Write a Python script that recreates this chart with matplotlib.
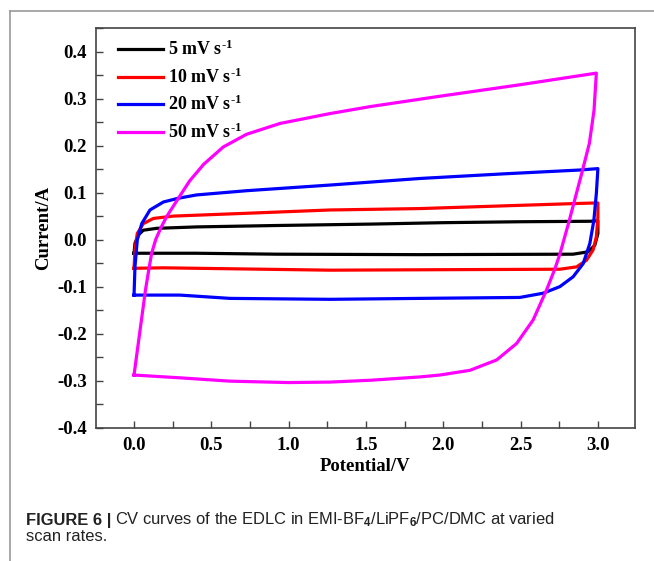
import numpy as np
import matplotlib
matplotlib.use("Agg")
import matplotlib.pyplot as plt
from matplotlib.lines import Line2D
from matplotlib.ticker import MultipleLocator, FormatStrFormatter

plt.rcParams['font.family'] = 'Liberation Serif'
plt.rcParams['font.weight'] = 'bold'
plt.rcParams['mathtext.fontset'] = 'custom'
plt.rcParams['mathtext.rm'] = 'Liberation Serif:bold'
plt.rcParams['mathtext.bf'] = 'Liberation Serif:bold'
plt.rcParams['mathtext.sf'] = 'Liberation Sans'
plt.rcParams['mathtext.default'] = 'bf'

# CV loops (potential in V, current in A)
v5 = [0, 0.006, 0.028, 0.06, 0.147, 0.405, 0.922, 1.533, 2.0, 2.5, 2.95, 3.0,
      3.0, 2.98, 2.937, 2.84, 1.849, 0.922, 0.4, 0]
i5 = [-0.029, -0.008, 0.010, 0.020, 0.024, 0.027, 0.030, 0.033, 0.036, 0.038, 0.039, 0.040,
      0.013, -0.012, -0.026, -0.031, -0.032, -0.031, -0.029, -0.029]

v10 = [0, 0.006, 0.021, 0.06, 0.125, 0.254, 0.728, 1.267, 1.849, 2.883, 3.0,
       3.0, 2.99, 2.969, 2.926, 2.862, 2.754, 1.978, 1.267, 0.62, 0.19, 0]
i10 = [-0.061, -0.022, 0.013, 0.034, 0.045, 0.050, 0.056, 0.063, 0.066, 0.077, 0.078,
       0.048, 0.006, -0.022, -0.044, -0.058, -0.063, -0.064, -0.065, -0.062, -0.060, -0.061]

v20 = [0, 0.006, 0.021, 0.05, 0.103, 0.19, 0.287, 0.405, 0.728, 1.267, 1.849, 2.4, 2.883, 3.0,
       2.99, 2.974, 2.948, 2.905, 2.84, 2.754, 2.646, 2.495, 1.849, 1.267, 0.62, 0.297, 0]
i20 = [-0.118, -0.058, -0.001, 0.034, 0.063, 0.080, 0.088, 0.095, 0.104, 0.116, 0.130, 0.140, 0.148, 0.151,
       0.098, 0.041, -0.008, -0.051, -0.079, -0.100, -0.114, -0.123, -0.125, -0.127, -0.125, -0.118, -0.118]

v50 = [0, 0.04, 0.075, 0.097, 0.114, 0.14, 0.172, 0.211, 0.287, 0.36, 0.45, 0.577, 0.728, 0.944,
       1.267, 1.53, 1.98, 2.49, 2.99,
       2.975, 2.945, 2.898, 2.844, 2.812, 2.754, 2.721, 2.668, 2.581, 2.474, 2.345, 2.172, 1.978,
       1.849, 1.533, 1.267, 1.0, 0.62, 0.3, 0]
i50 = [-0.288, -0.19, -0.105, -0.061, -0.029, 0.0, 0.024, 0.049, 0.088, 0.125, 0.160, 0.197, 0.224, 0.247,
       0.268, 0.283, 0.305, 0.329, 0.354,
       0.275, 0.205, 0.144, 0.077, 0.037, -0.031, -0.063, -0.107, -0.171, -0.221, -0.256, -0.278, -0.288,
       -0.292, -0.299, -0.303, -0.304, -0.301, -0.294, -0.288]

labels = [r'5 mV s$^{\text{-}1}$', r'10 mV s$^{\text{-}1}$',
          r'20 mV s$^{\text{-}1}$', r'50 mV s$^{\text{-}1}$']
colors = ['black', '#ff0000', '#0000ff', '#ff00ff']

fig = plt.figure(figsize=(6.54, 5.61), dpi=100)
ax = fig.add_axes([96/654, 1-427.7/561, (635-96)/654, (427.7-28)/561])

for v, i, lab, c in zip([v5, v10, v20, v50], [i5, i10, i20, i50], labels, colors):
    ax.plot(v, i, color=c, lw=2.3, label=lab, solid_joinstyle='round')

ax.set_xlim(-0.246, 3.24)
ax.set_ylim(-0.4, 0.45)
ax.xaxis.set_major_locator(MultipleLocator(0.5))
ax.xaxis.set_minor_locator(MultipleLocator(0.25))
ax.yaxis.set_major_locator(MultipleLocator(0.1))
ax.yaxis.set_minor_locator(MultipleLocator(0.05))
ax.xaxis.set_major_formatter(FormatStrFormatter('%.1f'))
ax.yaxis.set_major_formatter(FormatStrFormatter('%.1f'))
ax.tick_params(which='both', direction='in', length=5, width=1, color='#444444',
               labelsize=13.5, pad=6.5)
ax.tick_params(axis='y', which='both', left=True, right=False)
ax.tick_params(axis='x', which='both', bottom=True, top=False)
for s in ax.spines.values():
    s.set_color('#444444')
    s.set_linewidth(1.2)

ax.set_xlabel('Potential/V', fontsize=13.5, fontweight='bold', labelpad=3)
ax.set_ylabel('Current/A', fontsize=13.5, fontweight='bold', labelpad=4)

ax.legend(loc='upper left', bbox_to_anchor=(0.041, 0.970), frameon=False,
          fontsize=13, handlelength=2.5, handletextpad=0.25,
          labelspacing=0.45, borderpad=0, borderaxespad=0)

# outer panel frame
fig.add_artist(Line2D([9.5/654, 9.5/654], [0, 1-11/561], color='#999999', lw=1.2))
fig.add_artist(Line2D([9.5/654, 1], [1-11/561, 1-11/561], color='#999999', lw=1.2))

# caption
cap_font = 'Liberation Sans'
cap_size = 11.9
t1 = fig.text(26/654, 1-525/561, 'FIGURE 6 |', fontsize=cap_size, fontweight='bold',
              family=cap_font, va='baseline', ha='left', color='#222222')
fig.canvas.draw()
bb = t1.get_window_extent()
fig.text((bb.x1 + 4)/654, 1-525/561,
         r'CV curves of the EDLC in EMI-BF$_\mathsf{4}$/LiPF$_\mathsf{6}$/PC/DMC at varied',
         fontsize=cap_size, fontweight='normal', family=cap_font, va='baseline', ha='left',
         color='#222222')
fig.text(26/654, 1-541/561, 'scan rates.', fontsize=cap_size, fontweight='normal',
         family=cap_font, va='baseline', ha='left', color='#222222')

fig.savefig('out.png', dpi=100)
